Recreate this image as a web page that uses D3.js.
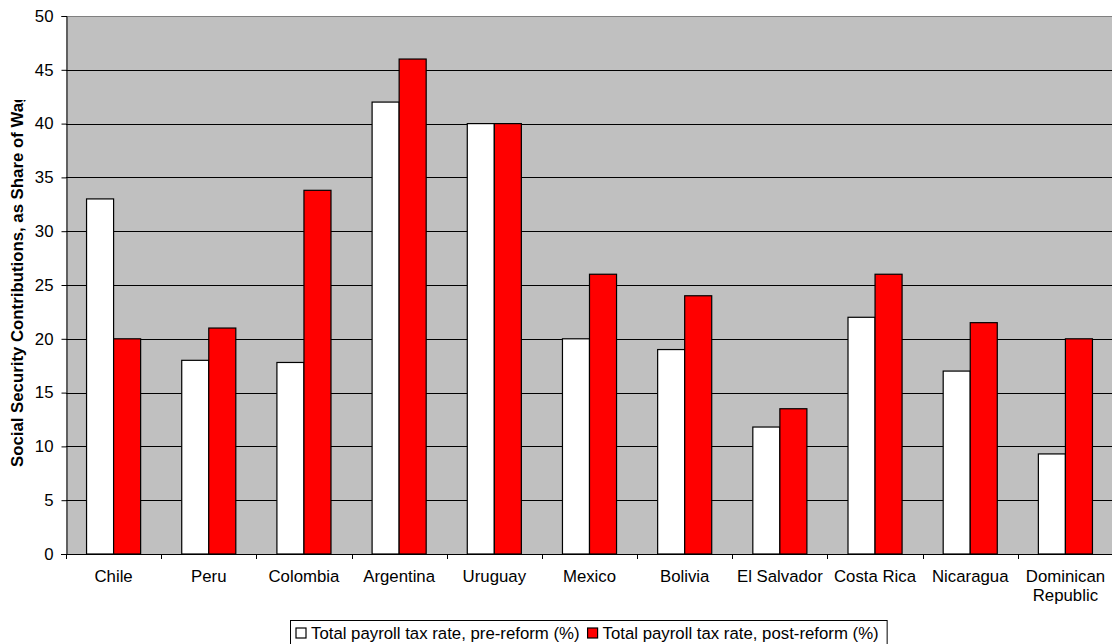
<!DOCTYPE html>
<html>
<head>
<meta charset="utf-8">
<script src="https://cdn.jsdelivr.net/npm/d3@7"></script>
<style>
  html, body { margin: 0; padding: 0; background: #fff; }
  svg { display: block; font-family: "Liberation Sans", Arial, sans-serif; }
</style>
</head>
<body>
<svg id="chart" width="1112" height="644"></svg>
<script>
const categories = ["Chile", "Peru", "Colombia", "Argentina", "Uruguay", "Mexico",
  "Bolivia", "El Salvador", "Costa Rica", "Nicaragua", "Dominican Republic"];
const preReform = [33, 18, 17.8, 42, 40, 20, 19, 11.8, 22, 17, 9.3];
const postReform = [20, 21, 33.8, 46, 40, 26, 24, 13.5, 26, 21.5, 20];
const seriesNames = ["Total payroll tax rate, pre-reform (%)", "Total payroll tax rate, post-reform (%)"];
const seriesColors = ["#ffffff", "#ff0000"];
const yTicks = [0, 5, 10, 15, 20, 25, 30, 35, 40, 45, 50];
const yTitle = "Social Security Contributions, as Share of Wages";

const FONT = "'Liberation Sans', Arial, sans-serif";
const FS = 16.8;
const svg = d3.select("#chart");
const plot = { left: 66, right: 1113, top: 16, bottom: 554 };

const x = d3.scaleBand().domain(categories).range([plot.left, plot.right]).paddingInner(0).paddingOuter(0);
const inner = d3.scaleBand().domain([0, 1]).range([0, x.bandwidth()]).paddingInner(0).paddingOuter(0.76);
const y = d3.scaleLinear().domain([0, 50]).range([plot.bottom, plot.top]);

// plot background
svg.append("rect")
  .attr("x", plot.left).attr("y", plot.top)
  .attr("width", plot.right - plot.left).attr("height", plot.bottom - plot.top)
  .attr("fill", "#c0c0c0");

// horizontal gridlines
svg.append("g").selectAll("line").data(yTicks.filter(d => d > 0))
  .join("line")
  .attr("x1", plot.left).attr("x2", plot.right)
  .attr("y1", d => Math.round(y(d)) + 0.5).attr("y2", d => Math.round(y(d)) + 0.5)
  .attr("stroke", d => d === 50 ? "#808080" : "#000")
  .attr("stroke-width", 1);

// bars
const rows = categories.map((c, i) => ({ c, vals: [preReform[i], postReform[i]] }));
const groups = svg.append("g").selectAll("g").data(rows).join("g")
  .attr("transform", d => `translate(${x(d.c)},0)`);
groups.selectAll("rect").data(d => d.vals.map((v, k) => ({ v, k })))
  .join("rect")
  .attr("x", d => inner(d.k))
  .attr("y", d => y(d.v))
  .attr("width", inner.bandwidth())
  .attr("height", d => plot.bottom - y(d.v))
  .attr("fill", d => seriesColors[d.k])
  .attr("stroke", "#000")
  .attr("stroke-width", 1.2);

// y axis
const yAxis = d3.axisLeft(y).tickValues(yTicks).tickSize(5).tickPadding(8);
const yg = svg.append("g").attr("transform", `translate(${plot.left + 0.5},0)`).call(yAxis);
yg.attr("font-size", FS).attr("font-family", FONT);
yg.select(".domain").attr("stroke", "#000");
yg.selectAll("text").attr("fill", "#000");

// x axis baseline
const xAxis = d3.axisBottom(x).tickSize(0).tickFormat("");
const xg = svg.append("g").attr("transform", `translate(0,${plot.bottom + 0.5})`).call(xAxis);
xg.select(".domain").attr("stroke", "#000").attr("d", `M${plot.left - 5},0H${plot.right}`);
// category separator ticks
svg.append("g").selectAll("line").data(categories)
  .join("line")
  .attr("x1", d => Math.round(x(d)) + 0.5).attr("x2", d => Math.round(x(d)) + 0.5)
  .attr("y1", plot.bottom).attr("y2", plot.bottom + 5)
  .attr("stroke", "#000");

// category labels (two lines for the long name)
svg.append("g").selectAll("text").data(categories)
  .join("text")
  .attr("x", d => x(d) + x.bandwidth() / 2)
  .attr("y", 582)
  .attr("text-anchor", "middle")
  .attr("font-size", FS)
  .attr("fill", "#000")
  .each(function (d) {
    const parts = d === "Dominican Republic" ? ["Dominican", "Republic"] : [d];
    d3.select(this).selectAll("tspan").data(parts).join("tspan")
      .attr("x", x(d) + x.bandwidth() / 2)
      .attr("dy", (p, i) => i === 0 ? 0 : 19)
      .text(p => p);
  });

// y title, clipped at the top
svg.append("clipPath").attr("id", "ytclip")
  .append("rect").attr("x", 0).attr("y", 100).attr("width", 40).attr("height", 400);
svg.append("g").attr("clip-path", "url(#ytclip)")
  .append("text")
  .attr("transform", "translate(23,467) rotate(-90)")
  .attr("text-anchor", "start")
  .attr("font-size", 16.8)
  .attr("font-weight", "bold")
  .attr("fill", "#000")
  .text(yTitle);

// legend
const lg = svg.append("g");
const box = lg.append("rect")
  .attr("x", 290.5).attr("y", 620.5).attr("height", 30)
  .attr("fill", "#fff").attr("stroke", "#000");
let lx = 296;
seriesNames.forEach((name, i) => {
  lg.append("rect")
    .attr("x", lx).attr("y", 628).attr("width", 10).attr("height", 10)
    .attr("fill", seriesColors[i]).attr("stroke", "#000").attr("stroke-width", 1.2);
  const t = lg.append("text")
    .attr("x", lx + 15).attr("y", 639)
    .attr("font-size", FS).attr("fill", "#000").text(name);
  lx += 15 + t.node().getComputedTextLength() + 8;
});
box.attr("width", lx - 290);
</script>
</body>
</html>
